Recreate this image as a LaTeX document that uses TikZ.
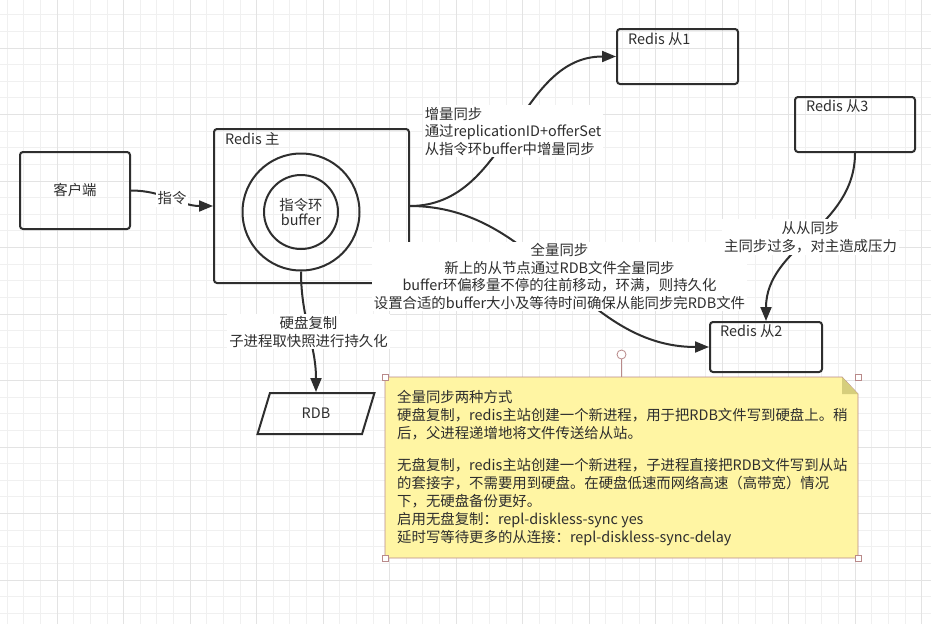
\documentclass[tikz,border=0pt]{standalone}
\usepackage{fontspec}
\setmainfont{Noto Sans CJK SC}
\usepackage{tikz}
\usetikzlibrary{arrows.meta,shapes.geometric}
\definecolor{ink}{HTML}{2E2E2E}
\definecolor{notefill}{HTML}{FFF5A3}
\definecolor{notefold}{HTML}{D6CE7C}
\definecolor{handle}{HTML}{B98A8A}

\begin{document}
\begin{tikzpicture}[x=1pt, y=-1pt,
  every node/.style={text=ink, font=\fontsize{14.4}{17.5}\selectfont},
  box/.style={draw=ink, line width=2pt, rounded corners=3pt},
  title/.style={anchor=west, inner sep=0pt},
  ring/.style={draw=ink, line width=2pt, circle, inner sep=0pt},
  link/.style={draw=ink, line width=2pt, -{Triangle[length=14pt,width=11pt]}},
  tag/.style={fill=white, align=center, inner sep=2pt},
  grip/.style={draw=handle, fill=white, line width=0.8pt, minimum size=6pt, inner sep=0pt}]
  \fill[white] (0,0) rectangle (931,624);
  \useasboundingbox (0,0) rectangle (931,624);
  % grid
  \foreach \k in {0,...,56} {
    \draw[gray!12, line width=0.8pt] ({7.2+16.625*\k},0) -- ++(0,624);
  }
  \foreach \k in {0,...,38} {
    \draw[gray!12, line width=0.8pt] (0,{-1.9+16.625*\k}) -- ++(931,0);
  }
  \foreach \k in {0,...,13} {
    \draw[gray!22, line width=0.8pt] ({57+66.5*\k},0) -- ++(0,624);
  }
  \foreach \k in {0,...,9} {
    \draw[gray!22, line width=0.8pt] (0,{48+66.5*\k}) -- ++(931,0);
  }

  \node[box, minimum width=110, minimum height=77] (client) at (75,190.5) {客户端};
  \node[box, minimum width=195, minimum height=154] (master) at (311.5,206) {};
  \node[title] (mastert) at ([shift={(12,11)}]master.north west) {Redis 主};
  \node[ring, minimum size=117] (ringout) at (301,212) {};
  \node[ring, minimum size=74, align=center] (ringin) at (301,212) {指令环\\[-3pt]buffer};

  \node[box, minimum width=121, minimum height=55] (slave1) at (677.5,56.5) {};
  \node[title] (slave1t) at ([shift={(12,11)}]slave1.north west) {Redis 从1};
  \node[box, minimum width=120, minimum height=55] (slave3) at (855,124.5) {};
  \node[title] (slave3t) at ([shift={(12,10)}]slave3.north west) {Redis 从3};
  \node[box, minimum width=112, minimum height=50] (slave2) at (766,347) {};
  \node[title] (slave2t) at ([shift={(11,10)}]slave2.north west) {Redis 从2};

  \node[draw=ink, line width=2pt, trapezium, trapezium left angle=70, trapezium right angle=110,
    trapezium stretches=true, minimum width=117, minimum height=41, inner sep=0pt] (rdb) at (316,413.5) {RDB};

  \draw[link] (client.east) to[out=0, in=180] node[tag] (cmd) {指令} (master.west);
  \draw[link] (master.east) to[out=0, in=180]
    node[tag, align=left] (incr) {增量同步\\通过replicationID+offerSet\\从指令环buffer中增量同步} (slave1.west);
  \draw[link] (master.east) to[out=0, in=180]
    node[tag] (full) {全量同步\\新上的从节点通过RDB文件全量同步\\buffer环偏移量不停的往前移动，环满，则持久化\\设置合适的buffer大小及等待时间确保从能同步完RDB文件} (slave2.west);
  \draw[link] (ringout.south) to[out=-90, in=90] node[tag] (disk) {硬盘复制\\子进程取快照进行持久化} (rdb.north);
  \draw[link] (slave3.south) to[out=-90, in=90] node[tag] (chain) {从从同步\\主同步过多，对主造成压力} (slave2.north);

  % note
  \coordinate (nw) at (385,377);
  \coordinate (ne) at (858,377);
  \coordinate (sw) at (385,558);
  \coordinate (se) at (858,558);
  \coordinate (ntop) at (621.5,377);
  \filldraw[fill=notefill, draw=handle, line width=0.8pt] (nw) -- ([shift={(-16,0)}]ne) -- ([shift={(0,17)}]ne) -- (se) -- (sw) -- cycle;
  \fill[notefold] ([shift={(-16,0)}]ne) -- ([shift={(-16,17)}]ne) -- ([shift={(0,17)}]ne) -- cycle;
  \node[anchor=west, align=left, inner sep=0pt, font=\fontsize{14.4}{18}\selectfont] (note) at (397,468) {全量同步两种方式\\
硬盘复制，redis主站创建一个新进程，用于把RDB文件写到硬盘上。稍\\
后，父进程递增地将文件传送给从站。\\[14pt]
无盘复制，redis主站创建一个新进程，子进程直接把RDB文件写到从站\\
的套接字，不需要用到硬盘。在硬盘低速而网络高速（高带宽）情况\\
下，无硬盘备份更好。\\
启用无盘复制：repl-diskless-sync yes\\
延时写等待更多的从连接：repl-diskless-sync-delay};
  \node[grip, circle, minimum size=9pt] (spin) at (621.5,354.5) {};
  \draw[handle, line width=0.8pt] (spin) -- (ntop);
  \foreach \c in {nw,ne,sw,se} {
    \node[grip] (grip-\c) at (\c) {};
  }
\end{tikzpicture}
\end{document}
